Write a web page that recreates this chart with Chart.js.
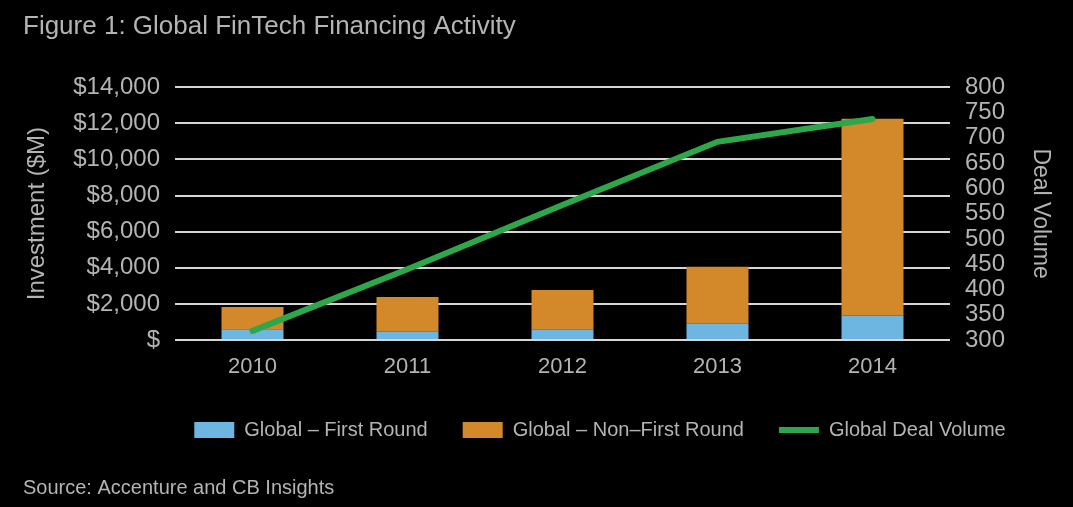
<!DOCTYPE html>
<html>
<head>
<meta charset="utf-8">
<title>Global FinTech Financing Activity</title>
<script src="https://cdn.jsdelivr.net/npm/chart.js@4/dist/chart.umd.min.js"></script>
<style>
    html, body {
        margin: 0;
        padding: 0;
        background: #000;
    }
    #fintech_chart {
        display: block;
    }
</style>
</head>
<body>
<canvas id="fintech_chart" width="1073" height="507"></canvas>
<script>
let years = ["2010", "2011", "2012", "2013", "2014"]
let firstRound = [600, 460, 570, 900, 1350]
let nonFirstRound = [1230, 1920, 2200, 3150, 10900]
let dealVolume = [318, 440, 567, 692, 737]

let textColor = "#b4b4b4"
let fontName = "'Liberation Sans', Arial, sans-serif"

// push the legend a bit to the right like in the figure
let legendShift = {
    id: "legendShift",
    afterLayout: function (chart) {
        chart.legend.left += 52
        chart.legend.right += 52
    }
}

let ctx = document.getElementById("fintech_chart")
let fintechChart = new Chart(ctx, {
    type: "bar",
    plugins: [legendShift],
    data: {
        labels: years,
        datasets: [{
                label: "Global \u2013 First Round",
                data: firstRound,
                backgroundColor: "#6db6e2",
                yAxisID: "y",
                order: 1
            },
            {
                label: "Global \u2013 Non\u2013First Round",
                data: nonFirstRound,
                backgroundColor: "#d3882a",
                yAxisID: "y",
                order: 1
            },
            {
                type: "line",
                label: "Global Deal Volume",
                data: dealVolume,
                borderColor: "#2ea64a",
                backgroundColor: "#2ea64a",
                borderWidth: 6,
                borderCapStyle: "round",
                pointRadius: 0,
                tension: 0,
                yAxisID: "y1",
                order: 0
            }
        ]
    },
    options: {
        responsive: false,
        animation: false,
        layout: {
            padding: { left: 23, right: 0, top: 0, bottom: 0 }
        },
        datasets: {
            bar: {
                categoryPercentage: 1,
                barPercentage: 0.4
            }
        },
        plugins: {
            tooltip: { enabled: false },
            title: {
                display: true,
                text: "Figure 1: Global FinTech Financing Activity",
                align: "start",
                color: textColor,
                font: { family: fontName, size: 26, weight: "normal" },
                padding: { top: 11, bottom: 45 }
            },
            subtitle: {
                display: true,
                position: "bottom",
                text: "Source: Accenture and CB Insights",
                align: "start",
                color: textColor,
                font: { family: fontName, size: 20, weight: "normal" },
                padding: { top: 26, bottom: 7 }
            },
            legend: {
                position: "bottom",
                labels: {
                    color: textColor,
                    font: { family: fontName, size: 20 },
                    usePointStyle: true,
                    pointStyleWidth: 40,
                    boxHeight: 16,
                    padding: 35,
                    generateLabels: function (chart) {
                        let items = Chart.defaults.plugins.legend.labels.generateLabels(chart)
                        // keep dataset order, line last
                        items.sort(function (a, b) { return a.datasetIndex - b.datasetIndex })
                        items.forEach(function (it) {
                            it.pointStyle = it.datasetIndex === 2 ? "line" : "rect"
                        })
                        return items
                    }
                }
            }
        },
        scales: {
            x: {
                stacked: true,
                grid: { display: false, drawTicks: false },
                border: { display: false },
                ticks: {
                    color: textColor,
                    padding: 14,
                    font: { family: fontName, size: 22 }
                },
                afterFit: function (scale) {
                    scale.height = 45
                }
            },
            y: {
                stacked: true,
                position: "left",
                min: 0,
                max: 14000,
                grid: { color: "#d6d6d6", lineWidth: 2, drawTicks: false },
                border: { display: false },
                ticks: {
                    stepSize: 2000,
                    color: textColor,
                    padding: 15,
                    font: { family: fontName, size: 24 },
                    callback: function (v) {
                        if (v === 0) return "$"
                        return "$" + v.toLocaleString("en-US")
                    }
                },
                title: {
                    display: true,
                    text: "Investment ($M)",
                    color: textColor,
                    padding: 0,
                    font: { family: fontName, size: 24 }
                },
                afterFit: function (scale) {
                    scale.width = 152
                }
            },
            y1: {
                position: "right",
                min: 300,
                max: 800,
                grid: { display: false, drawTicks: false },
                border: { display: false },
                ticks: {
                    stepSize: 50,
                    autoSkip: false,
                    color: textColor,
                    padding: 15,
                    font: { family: fontName, size: 24 }
                },
                title: {
                    display: true,
                    text: "Deal Volume",
                    color: textColor,
                    padding: 19,
                    font: { family: fontName, size: 23 }
                },
                afterFit: function (scale) {
                    scale.width = 123
                }
            }
        }
    }
})
</script>
</body>
</html>
